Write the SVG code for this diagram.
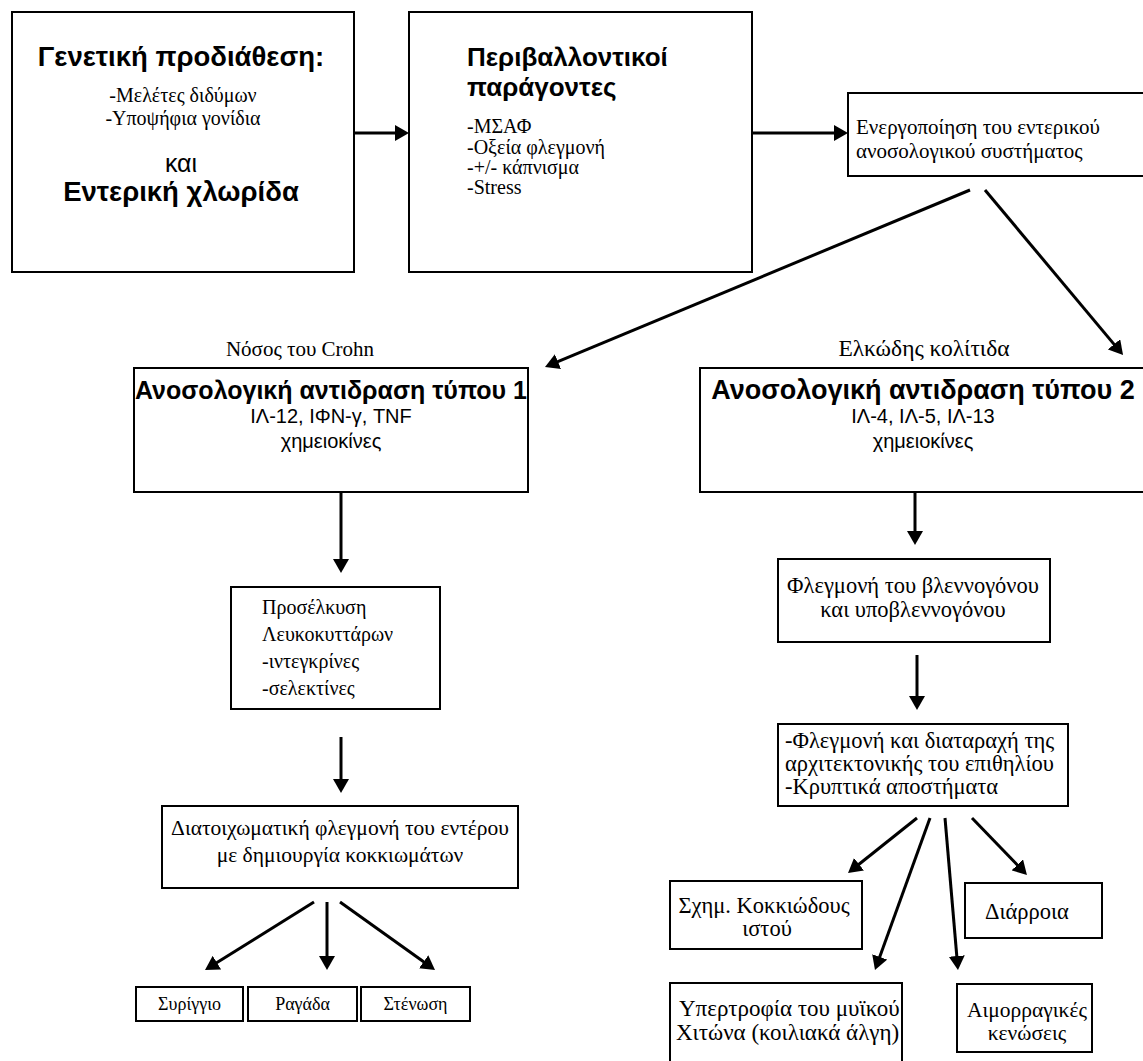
<svg xmlns="http://www.w3.org/2000/svg" width="1143" height="1061" viewBox="0 0 1143 1061">
<style>
.box{fill:#fff;stroke:#000;stroke-width:2}
.sb{font-family:"Liberation Sans",Arial,sans-serif;font-weight:bold;fill:#000}
.s{font-family:"Liberation Sans",Arial,sans-serif;fill:#000}
.t{font-family:"Liberation Serif","Times New Roman","DejaVu Serif",serif;fill:#000}
.c{text-anchor:middle}
.ln{stroke:#000;stroke-width:3;fill:none;marker-end:url(#ah)}
</style>
<defs>
<marker id="ah" markerUnits="userSpaceOnUse" markerWidth="14" markerHeight="16" refX="6" refY="8" orient="auto">
<path d="M0,0 L14,8 L0,16 z" fill="#000"/>
</marker>
</defs>
<rect width="1143" height="1061" fill="#fff"/>

<g id="connectors">
<line class="ln" x1="355" y1="133" x2="401" y2="133"/>
<line class="ln" x1="752" y1="133" x2="840" y2="133"/>
<line class="ln" x1="970" y1="190" x2="552.4" y2="363.9"/>
<line class="ln" x1="985" y1="190" x2="1117.9" y2="348.9"/>
<line class="ln" x1="341" y1="492" x2="341" y2="565"/>
<line class="ln" x1="915" y1="492" x2="915" y2="537"/>
<line class="ln" x1="341" y1="737" x2="341" y2="785"/>
<line class="ln" x1="917" y1="655" x2="917" y2="702"/>
<line class="ln" x1="314" y1="902" x2="211.8" y2="965.8"/>
<line class="ln" x1="327" y1="902" x2="327" y2="962"/>
<line class="ln" x1="340" y1="902" x2="428.5" y2="965.3"/>
<line class="ln" x1="917" y1="818" x2="854.3" y2="868"/>
<line class="ln" x1="930" y1="818" x2="877.7" y2="962.5"/>
<line class="ln" x1="945" y1="818" x2="957.3" y2="962"/>
<line class="ln" x1="972" y1="818" x2="1021.4" y2="869.2"/>
</g>

<g id="genetic">
<rect class="box" x="12" y="12" width="342" height="260"/>
<text class="sb c" x="181" y="66" font-size="27.5">Γενετική προδιάθεση:</text>
<text class="t c" x="183" y="102" font-size="20">-Μελέτες διδύμων</text>
<text class="t c" x="183" y="125" font-size="20">-Υποψήφια γονίδια</text>
<text class="s c" x="181" y="172" font-size="25">και</text>
<text class="sb c" x="181" y="201" font-size="27.5">Εντερική χλωρίδα</text>
</g>

<g id="environment">
<rect class="box" x="409" y="12" width="343" height="260"/>
<text class="sb" x="467" y="66" font-size="26">Περιβαλλοντικοί</text>
<text class="sb" x="467" y="96" font-size="26">παράγοντες</text>
<text class="t" x="467" y="133" font-size="20">-ΜΣΑΦ</text>
<text class="t" x="467" y="154" font-size="20">-Οξεία φλεγμονή</text>
<text class="t" x="467" y="174" font-size="20">-+/- κάπνισμα</text>
<text class="t" x="467" y="194" font-size="20">-Stress</text>
</g>

<g id="activation">
<rect class="box" x="848" y="93" width="305" height="83"/>
<text class="t" x="856" y="134" font-size="21">Ενεργοποίηση του εντερικού</text>
<text class="t" x="856" y="158" font-size="21">ανοσολογικού συστήματος</text>
</g>

<g id="label-crohn">
<text class="t c" x="300" y="356" font-size="21">Νόσος του Crohn</text>
</g>
<g id="label-uc">
<text class="t c" x="924" y="356" font-size="23.5">Ελκώδης κολίτιδα</text>
</g>

<g id="type1">
<rect class="box" x="134" y="368" width="394" height="124"/>
<text class="sb c" x="331" y="399" font-size="25">Ανοσολογική αντιδραση τύπου 1</text>
<text class="s c" x="331" y="423" font-size="20">ΙΛ-12, ΙΦΝ-γ, TNF</text>
<text class="s c" x="331" y="448" font-size="20">χημειοκίνες</text>
</g>

<g id="type2">
<rect class="box" x="700" y="368" width="453" height="124"/>
<text class="sb c" x="923" y="399" font-size="27">Ανοσολογική αντιδραση τύπου 2</text>
<text class="s c" x="923" y="423" font-size="20">ΙΛ-4, ΙΛ-5, ΙΛ-13</text>
<text class="s c" x="923" y="448" font-size="20">χημειοκίνες</text>
</g>

<g id="recruitment">
<rect class="box" x="231" y="587" width="209" height="122"/>
<text class="t" x="262" y="614" font-size="20">Προσέλκυση</text>
<text class="t" x="262" y="641" font-size="20">Λευκοκυττάρων</text>
<text class="t" x="262" y="668" font-size="20">-ιντεγκρίνες</text>
<text class="t" x="262" y="695" font-size="20">-σελεκτίνες</text>
</g>

<g id="transmural">
<rect class="box" x="162" y="806" width="356" height="82"/>
<text class="t c" x="340" y="835" font-size="21.5">Διατοιχωματική φλεγμονή του εντέρου</text>
<text class="t c" x="340" y="862" font-size="21.5">με δημιουργία κοκκιωμάτων</text>
</g>

<g id="fistula">
<rect class="box" x="136" y="987" width="107" height="34"/>
<text class="t c" x="189.5" y="1010" font-size="18">Συρίγγιο</text>
</g>
<g id="fissure">
<rect class="box" x="248" y="987" width="109" height="34"/>
<text class="t c" x="302.5" y="1010" font-size="18">Ραγάδα</text>
</g>
<g id="stenosis">
<rect class="box" x="361" y="987" width="109" height="34"/>
<text class="t c" x="415.5" y="1010" font-size="18">Στένωση</text>
</g>

<g id="mucosal">
<rect class="box" x="778" y="559" width="272" height="83"/>
<text class="t c" x="913" y="593" font-size="22.5">Φλεγμονή του βλεννογόνου</text>
<text class="t c" x="913" y="617" font-size="22.5">και υποβλεννογόνου</text>
</g>

<g id="epithelium">
<rect class="box" x="778" y="724" width="290" height="82"/>
<text class="t" x="785" y="748" font-size="22.5">-Φλεγμονή και διαταραχή της</text>
<text class="t" x="785" y="771" font-size="22.5">αρχιτεκτονικής του επιθηλίου</text>
<text class="t" x="785" y="794" font-size="22.5">-Κρυπτικά αποστήματα</text>
</g>

<g id="granulation">
<rect class="box" x="670" y="881" width="192" height="68"/>
<text class="t c" x="764" y="913" font-size="22.5">Σχημ. Κοκκιώδους</text>
<text class="t c" x="767" y="936" font-size="22.5">ιστού</text>
</g>

<g id="diarrhea">
<rect class="box" x="965" y="883" width="137" height="55"/>
<text class="t" x="985" y="919" font-size="22.5">Διάρροια</text>
</g>

<g id="hypertrophy">
<rect class="box" x="670" y="983" width="232" height="85"/>
<text class="t" x="679" y="1016" font-size="23">Υπερτροφία του μυϊκού</text>
<text class="t" x="676" y="1040" font-size="23">Χιτώνα (κοιλιακά άλγη)</text>
</g>

<g id="hemorrhagic">
<rect class="box" x="957" y="984" width="135" height="68"/>
<text class="t c" x="1027" y="1017" font-size="21.5">Αιμορραγικές</text>
<text class="t c" x="1027" y="1040" font-size="21.5">κενώσεις</text>
</g>
</svg>
